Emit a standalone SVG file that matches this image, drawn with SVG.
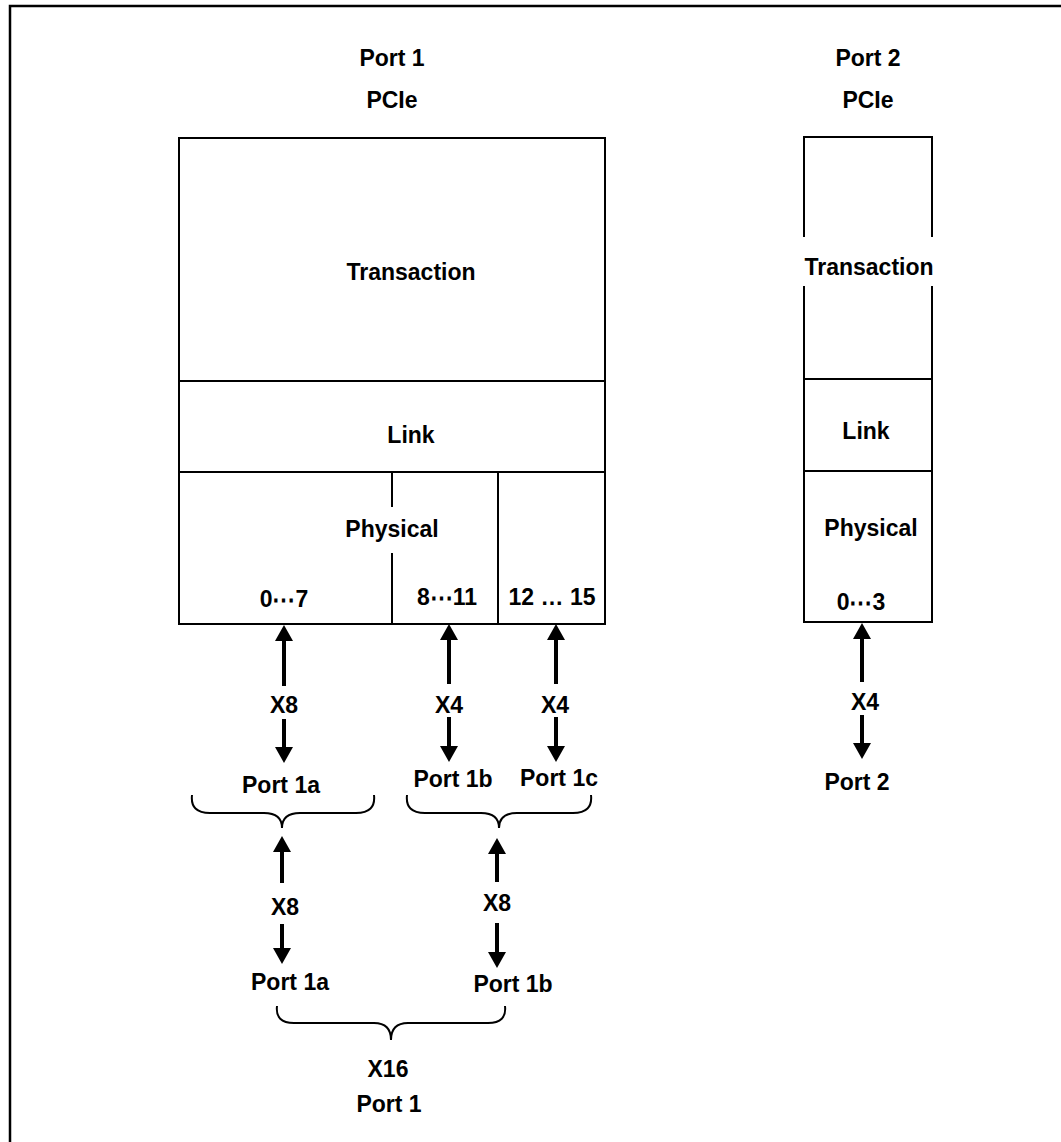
<svg xmlns="http://www.w3.org/2000/svg" width="1061" height="1142" viewBox="0 0 1061 1142">
<defs>
<style>
.t{font-family:"Liberation Sans",Arial,sans-serif;font-weight:bold;font-size:23px;fill:#000;text-anchor:middle}
.b{fill:none;stroke:#000;stroke-width:2}
.s{fill:none;stroke:#000;stroke-width:4}
.br{fill:none;stroke:#000;stroke-width:2}
</style>
<marker id="ah" viewBox="0 0 16 18" markerWidth="16" markerHeight="18" refX="0" refY="9" orient="auto" markerUnits="userSpaceOnUse">
<path d="M0,0 L16,9 L0,18 z" fill="#000"/>
</marker>
</defs>
<rect width="1061" height="1142" fill="#fff"/>
<rect x="10" y="6" width="1100" height="1200" fill="none" stroke="#000" stroke-width="2.5"/>

<g id="port1-labels">
<text class="t" x="392" y="66">Port 1</text>
<text class="t" x="392" y="108">PCIe</text>
</g>
<g id="port2-labels">
<text class="t" x="868" y="66">Port 2</text>
<text class="t" x="868" y="108">PCIe</text>
</g>

<g id="port1-stack">
<rect class="b" x="179" y="138" width="426" height="486"/>
<line class="b" x1="179" y1="381" x2="605" y2="381"/>
<line class="b" x1="179" y1="472" x2="605" y2="472"/>
<line class="b" x1="392" y1="472" x2="392" y2="507"/>
<line class="b" x1="392" y1="553" x2="392" y2="624"/>
<line class="b" x1="498" y1="472" x2="498" y2="624"/>
<text class="t" x="411" y="280">Transaction</text>
<text class="t" x="411" y="443">Link</text>
<text class="t" x="392" y="537">Physical</text>
<text class="t" x="284" y="607">0⋯7</text>
<text class="t" x="447" y="605">8⋯11</text>
<text class="t" x="552" y="605">12 … 15</text>
</g>

<g id="port2-stack">
<line class="b" x1="804" y1="137" x2="932" y2="137"/>
<line class="b" x1="804" y1="136" x2="804" y2="237"/>
<line class="b" x1="804" y1="286" x2="804" y2="622"/>
<line class="b" x1="932" y1="136" x2="932" y2="237"/>
<line class="b" x1="932" y1="286" x2="932" y2="622"/>
<line class="b" x1="804" y1="379" x2="932" y2="379"/>
<line class="b" x1="804" y1="471" x2="932" y2="471"/>
<line class="b" x1="803" y1="622" x2="933" y2="622"/>
<text class="t" x="869" y="275">Transaction</text>
<text class="t" x="866" y="439">Link</text>
<text class="t" x="871" y="536">Physical</text>
<text class="t" x="861" y="610">0⋯3</text>
</g>

<g id="connectors">
<line class="s" x1="284" y1="686" x2="284" y2="641" marker-end="url(#ah)"/>
<line class="s" x1="284" y1="719" x2="284" y2="747" marker-end="url(#ah)"/>
<line class="s" x1="449" y1="684" x2="449" y2="640" marker-end="url(#ah)"/>
<line class="s" x1="449" y1="717" x2="449" y2="746" marker-end="url(#ah)"/>
<line class="s" x1="556" y1="684" x2="556" y2="640" marker-end="url(#ah)"/>
<line class="s" x1="556" y1="717" x2="556" y2="746" marker-end="url(#ah)"/>
<line class="s" x1="862" y1="682" x2="862" y2="639" marker-end="url(#ah)"/>
<line class="s" x1="862" y1="715" x2="862" y2="743" marker-end="url(#ah)"/>
<line class="s" x1="282" y1="883" x2="282" y2="852" marker-end="url(#ah)"/>
<line class="s" x1="282" y1="924" x2="282" y2="948" marker-end="url(#ah)"/>
<line class="s" x1="497" y1="882" x2="497" y2="854" marker-end="url(#ah)"/>
<line class="s" x1="497" y1="923" x2="497" y2="952" marker-end="url(#ah)"/>
</g>

<g id="width-labels">
<text class="t" x="284" y="713">X8</text>
<text class="t" x="449" y="713">X4</text>
<text class="t" x="555" y="713">X4</text>
<text class="t" x="865" y="710">X4</text>
<text class="t" x="285" y="915">X8</text>
<text class="t" x="497" y="911">X8</text>
</g>

<g id="split-ports">
<text class="t" x="281" y="793">Port 1a</text>
<text class="t" x="453" y="787">Port 1b</text>
<text class="t" x="559" y="786">Port 1c</text>
<text class="t" x="857" y="790">Port 2</text>
<path class="br" d="M192,795 Q190,813 210,813 L264,813 Q282,813 282,828 Q282,813 300,813 L356,813 Q376,813 374,795"/>
<path class="br" d="M407,795 Q405,813 425,813 L481,813 Q499,813 499,828 Q499,813 517,813 L573,813 Q593,813 591,795"/>
</g>

<g id="x8-ports">
<text class="t" x="290" y="990">Port 1a</text>
<text class="t" x="513" y="992">Port 1b</text>
<path class="br" d="M277,1006 Q275,1023 294,1023 L374,1023 Q391,1023 391,1040 Q391,1023 408,1023 L488,1023 Q507,1023 505,1006"/>
</g>

<g id="x16-port">
<text class="t" x="388" y="1077">X16</text>
<text class="t" x="389" y="1112">Port 1</text>
</g>
</svg>
